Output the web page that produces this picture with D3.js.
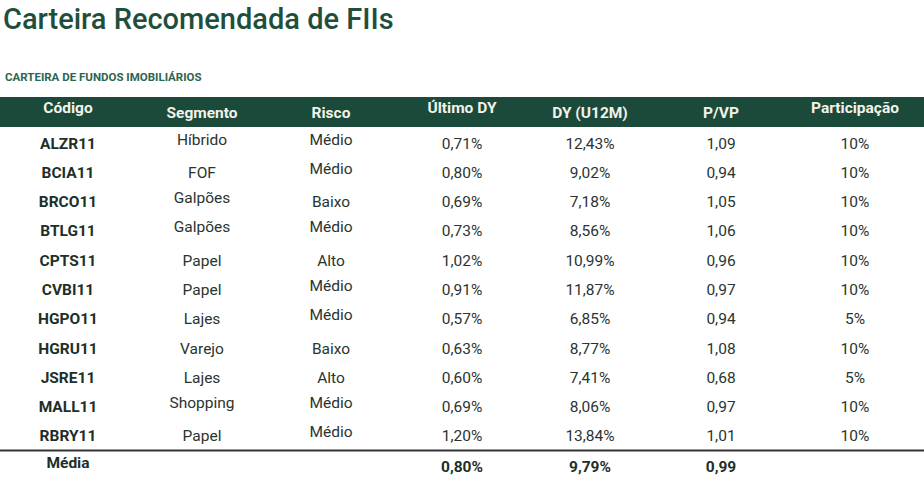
<!DOCTYPE html>
<html><head><meta charset="utf-8">
<script src="https://cdn.jsdelivr.net/npm/d3@7"></script>
<style>body{margin:0;background:#fff}</style></head>
<body><svg id="c" width="924" height="477"></svg>
<script>
const headers = ["Código","Segmento","Risco","Último DY","DY (U12M)","P/VP","Participação"];
const codes = ["ALZR11","BCIA11","BRCO11","BTLG11","CPTS11","CVBI11","HGPO11","HGRU11","JSRE11","MALL11","RBRY11"];
const segments = ["Híbrido","FOF","Galpões","Galpões","Papel","Papel","Lajes","Varejo","Lajes","Shopping","Papel"];
const risks = ["Médio","Médio","Baixo","Médio","Alto","Médio","Médio","Baixo","Alto","Médio","Médio"];
const lastDY = [0.71,0.80,0.69,0.73,1.02,0.91,0.57,0.63,0.60,0.69,1.20];
const dy12 = [12.43,9.02,7.18,8.56,10.99,11.87,6.85,8.77,7.41,8.06,13.84];
const pvp = [1.09,0.94,1.05,1.06,0.96,0.97,0.94,1.08,0.68,0.97,1.01];
const share = [10,10,10,10,10,10,5,10,5,10,10];
const avgLabel = "Média";
const avgValues = ["0,80%","9,79%","0,99"];

const fmt = (v,d)=>v.toFixed(d).replace(".",",");
const svg = d3.select("#c");
const green = "#1c4a3a";
const F = "Roboto, 'Noto Sans', sans-serif";
const FS = 15.5;

svg.append("text").attr("x",3).attr("y",29).attr("font-family",F).attr("font-size",29).attr("font-weight",500)
  .attr("fill","#1f4f3c").text("Carteira Recomendada de FIIs");
svg.append("text").attr("x",5).attr("y",81).attr("font-family",F).attr("font-size",11.5)
  .attr("font-weight","bold").attr("fill","#2b6650").text("CARTEIRA DE FUNDOS IMOBILIÁRIOS");

const xs = {"Código":68,"Segmento":202,"Risco":331,"Último DY":462,"DY (U12M)":590,"P/VP":721,"Participação":855};
const y = d3.scaleBand().domain(codes).range([128,450]);

svg.append("rect").attr("x",0).attr("y",97).attr("width",924).attr("height",30).attr("fill",green);
const hdrDy = {"Código":-5,"Segmento":0,"Risco":0,"Último DY":-5,"DY (U12M)":0,"P/VP":0,"Participação":-5};
svg.selectAll("text.h").data(headers).join("text").attr("class","h")
  .attr("x",d=>xs[d]).attr("y",d=>118+hdrDy[d]).attr("text-anchor","middle")
  .attr("font-family",F).attr("font-size",FS).attr("font-weight","bold").attr("fill","#f2f2ea").text(d=>d);

const raisedSeg = new Set(["Híbrido","Galpões","Shopping"]);
const rows = codes.map((c,i)=>({c,i}));
const g = svg.selectAll("g.r").data(rows).join("g").attr("class","r")
  .attr("transform",d=>`translate(0,${y(d.c)+y.bandwidth()/2+5})`);
function col(key, txt, dy, bold){
  g.append("text").attr("x",xs[key]).attr("y",d=>dy(d)).attr("text-anchor","middle")
   .attr("font-family",F).attr("font-size",FS).attr("font-weight",bold?"bold":"normal")
   .attr("fill",bold?"#1d2f28":"#2a3430").text(txt);
}
col("Código",d=>d.c,()=>1,true);
col("Segmento",d=>segments[d.i],d=>raisedSeg.has(segments[d.i])?-3:1,false);
col("Risco",d=>risks[d.i],d=>risks[d.i]==="Médio"?-3:1,false);
col("Último DY",d=>fmt(lastDY[d.i],2)+"%",()=>1,false);
col("DY (U12M)",d=>fmt(dy12[d.i],2)+"%",()=>1,false);
col("P/VP",d=>fmt(pvp[d.i],2),()=>1,false);
col("Participação",d=>share[d.i]+"%",()=>1,false);

svg.append("line").attr("x1",0).attr("x2",924).attr("y1",450.5).attr("y2",450.5).attr("stroke","#333").attr("stroke-width",2);
svg.append("text").attr("x",68).attr("y",468).attr("text-anchor","middle").attr("font-family",F)
  .attr("font-size",FS).attr("font-weight","bold").attr("fill","#1d2f28").text(avgLabel);
svg.selectAll("text.a").data(avgValues).join("text").attr("class","a")
  .attr("x",(d,i)=>xs[headers[3+i]]).attr("y",472).attr("text-anchor","middle").attr("font-family",F)
  .attr("font-size",FS).attr("font-weight","bold").attr("fill","#1d2f28").text(d=>d);
</script></body></html>
